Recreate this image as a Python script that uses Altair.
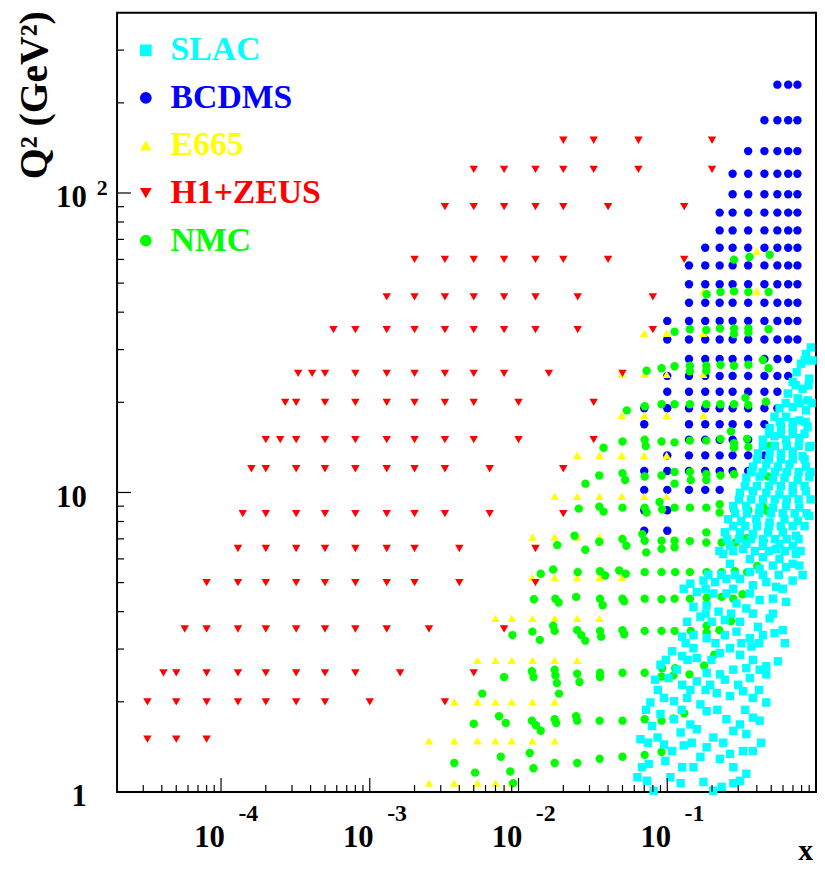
import altair as alt
import pandas as pd

FONT = "Liberation Serif"

EXPERIMENTS = ["SLAC", "BCDMS", "E665", "H1+ZEUS", "NMC"]
COLORS = ["#00ffff", "#0000ff", "#ffff00", "#ff0000", "#00ff00"]
SHAPES = ["square", "circle", "triangle-up", "triangle-down", "circle"]

X_MAJOR = [1e-4, 1e-3, 1e-2, 1e-1]
X_MINOR = [k * 10.0 ** e for e in range(-5, 0) for k in range(2, 10) if k * 10.0 ** e > 2.1e-5]
Y_MAJOR = [1, 10, 100]
Y_MINOR = [2, 3, 4, 5, 6, 7, 8, 9, 20, 30, 40, 50, 60, 70, 80, 90, 200, 300]

# ---------------- H1+ZEUS (Q2 bins, x values per bin)
H1_Q2 = [150, 120, 90, 60, 45, 35, 25, 20, 15, 12, 8.5, 6.5, 5, 3.5, 2.5, 2, 1.5]
H1_X = [
    [0.02, 0.032, 0.064, 0.2],
    [0.005, 0.008, 0.013, 0.02, 0.032, 0.064, 0.2],
    [0.0032, 0.005, 0.008, 0.013, 0.02, 0.04, 0.13],
    [0.002, 0.0032, 0.005, 0.008, 0.013, 0.02, 0.04, 0.13],
    [0.0013, 0.002, 0.0032, 0.005, 0.008, 0.013, 0.025, 0.08],
    [0.00057, 0.0008, 0.0013, 0.002, 0.0032, 0.005, 0.008, 0.013, 0.025, 0.08],
    [0.00033, 0.00041, 0.0005, 0.0008, 0.0013, 0.002, 0.0032, 0.005, 0.008, 0.016, 0.05],
    [0.00027, 0.00032, 0.0005, 0.0008, 0.0013, 0.002, 0.0032, 0.005, 0.01, 0.032],
    [0.0002, 0.00025, 0.00032, 0.0005, 0.0008, 0.0013, 0.002, 0.0032, 0.005, 0.01, 0.032],
    [0.00016, 0.0002, 0.00032, 0.0005, 0.0008, 0.0013, 0.002, 0.0032, 0.0064, 0.02],
    [0.00014, 0.0002, 0.00032, 0.0005, 0.0008, 0.0013, 0.002, 0.0032, 0.0064, 0.02],
    [0.00013, 0.0002, 0.00032, 0.0005, 0.0008, 0.0013, 0.002, 0.004, 0.013],
    [0.00008, 0.00013, 0.0002, 0.00032, 0.0005, 0.0008, 0.0013, 0.002, 0.004, 0.013],
    [0.000057, 0.00008, 0.00013, 0.0002, 0.00032, 0.0005, 0.0008, 0.0013, 0.0025, 0.008],
    [0.000041, 0.00005, 0.00008, 0.00013, 0.0002, 0.00032, 0.0005, 0.0008, 0.0016, 0.005],
    [0.000032, 0.00005, 0.00008, 0.00013, 0.0002, 0.00032, 0.0005, 0.001, 0.0032],
    [0.000032, 0.00005, 0.00008],
]

# ---------------- E665
E665_Q2 = [64, 47, 34, 24.8, 18.1, 13.3, 9.7, 7.1, 5.2, 3.8, 2.75, 2.0, 1.48, 1.07]
E665_X = [
    [0.40],
    [0.175, 0.40],
    [0.07, 0.099, 0.175],
    [0.0495, 0.07, 0.099, 0.175],
    [0.0495, 0.07, 0.099, 0.175],
    [0.0248, 0.035, 0.0495, 0.07, 0.099],
    [0.0175, 0.0248, 0.035, 0.0495, 0.07, 0.099],
    [0.0124, 0.0175, 0.0248, 0.035, 0.0495],
    [0.0124, 0.0175, 0.0248, 0.035, 0.0495],
    [0.007, 0.009, 0.0124, 0.0175, 0.0248, 0.035],
    [0.0053, 0.007, 0.009, 0.0124, 0.0175, 0.0248],
    [0.0037, 0.0053, 0.007, 0.009, 0.0124, 0.0175],
    [0.0025, 0.0037, 0.0053, 0.007, 0.009, 0.0124, 0.0175],
    [0.0025, 0.0037, 0.0053, 0.007, 0.009],
]

# ---------------- BCDMS
BCDMS_Q2 = [230, 175, 138, 116, 99, 86, 75, 65.6, 57.3, 49.6, 43, 37.4, 32.4, 27.9,
            24.5, 21.7, 19.1, 16.9, 15.0, 13.3, 11.8, 10.2, 8.72, 7.45]
BCDMS_X = [
    [0.55, 0.65, 0.75],
    [0.45, 0.55, 0.65, 0.75],
    [0.35, 0.45, 0.55, 0.65, 0.75],
    [0.275, 0.35, 0.45, 0.55, 0.65, 0.75],
    [0.275, 0.35, 0.45, 0.55, 0.65, 0.75],
    [0.225, 0.275, 0.35, 0.45, 0.55, 0.65, 0.75],
    [0.225, 0.275, 0.35, 0.45, 0.55, 0.65, 0.75],
    [0.18, 0.225, 0.275, 0.35, 0.45, 0.55, 0.65, 0.75],
    [0.14, 0.18, 0.225, 0.275, 0.35, 0.45, 0.55, 0.65, 0.75],
    [0.14, 0.18, 0.225, 0.275, 0.35, 0.45, 0.55, 0.65, 0.75],
    [0.14, 0.18, 0.225, 0.275, 0.35, 0.45, 0.55, 0.65, 0.75],
    [0.10, 0.14, 0.18, 0.225, 0.275, 0.35, 0.45, 0.55, 0.65, 0.75],
    [0.10, 0.14, 0.18, 0.225, 0.275, 0.35, 0.45, 0.55, 0.65, 0.75],
    [0.14, 0.18, 0.225, 0.275, 0.35, 0.45, 0.55, 0.65],
    [0.10, 0.14, 0.18, 0.225, 0.275, 0.35, 0.45, 0.55, 0.65],
    [0.10, 0.14, 0.18, 0.225, 0.275, 0.35, 0.45, 0.55],
    [0.07, 0.10, 0.14, 0.18, 0.225, 0.275, 0.35, 0.45, 0.55],
    [0.07, 0.14, 0.18, 0.225, 0.275, 0.35, 0.45],
    [0.14, 0.18, 0.225, 0.275, 0.35],
    [0.10, 0.14, 0.18, 0.225, 0.275, 0.35, 0.45],
    [0.07, 0.10, 0.14, 0.18, 0.225, 0.275, 0.35],
    [0.07, 0.10, 0.14, 0.18, 0.225],
    [0.07, 0.10],
    [0.07, 0.10],
]

# ---------------- NMC (x, Q2 read point by point)
NMC_X = [
    0.488, 0.281, 0.357,
    0.184, 0.228, 0.281, 0.351, 0.48,
    0.112, 0.142, 0.183, 0.226, 0.281, 0.281, 0.351, 0.351, 0.48,
    0.0727, 0.0915, 0.112, 0.142, 0.142, 0.183, 0.183, 0.228, 0.281, 0.351, 0.44, 0.48,
    0.0535, 0.0705, 0.0915, 0.112, 0.142, 0.183, 0.228, 0.281, 0.335, 0.351, 0.461,
    0.0373, 0.05, 0.0705, 0.0716, 0.0915, 0.112, 0.142, 0.183, 0.228, 0.268, 0.281, 0.281, 0.344, 0.351, 0.488,
    0.0349, 0.05, 0.0521, 0.0705, 0.0915, 0.112, 0.112, 0.142, 0.144, 0.183, 0.183, 0.228, 0.281, 0.475, 0.0282,
    0.0349, 0.0373, 0.05, 0.0705, 0.0727, 0.0887, 0.0923, 0.112, 0.142, 0.183, 0.225, 0.225, 0.281, 0.351, 0.44, 0.468, 0.0254,
    0.0349, 0.05, 0.0531, 0.0679, 0.0705, 0.0722, 0.0915, 0.0915, 0.112, 0.112, 0.142, 0.183, 0.183, 0.232, 0.288, 0.344, 0.445, 0.0238, 0.0182, 0.0281,
    0.0141, 0.0171, 0.025, 0.0353, 0.0382, 0.0475, 0.0526, 0.0705, 0.0915, 0.113, 0.142, 0.184, 0.232, 0.285, 0.344, 0.403,
    0.0127, 0.0177, 0.0186, 0.0244, 0.0353, 0.0368, 0.05, 0.0513, 0.0705, 0.0915, 0.112, 0.142, 0.184, 0.232, 0.278, 0.32,
    0.0091, 0.0124, 0.0139, 0.0171, 0.0175, 0.0248, 0.0264, 0.0281, 0.0353, 0.0359, 0.05, 0.0513, 0.0705, 0.0915, 0.112, 0.144, 0.184, 0.184, 0.224, 0.268, 0.207, 0.177,
    0.008, 0.0123, 0.0126, 0.0175, 0.0177, 0.0181, 0.0187, 0.0248, 0.0257, 0.0353, 0.0353, 0.05, 0.0705, 0.0923, 0.0915, 0.113, 0.11, 0.141, 0.0057,
    0.13, 0.0074, 0.0082, 0.005, 0.0123, 0.0131, 0.0141, 0.0175, 0.0179, 0.0244, 0.0248, 0.0351, 0.05, 0.0705, 0.0915, 0.11,
    0.0915, 0.0037, 0.0076, 0.0119, 0.0126, 0.0175, 0.0248, 0.0351, 0.05, 0.0705, 0.0051, 0.0088, 0.0092,
]
NMC_Q2 = [
    62.2, 59.9, 61.1,
    45.9, 46.7, 47.0, 46.7, 46.7,
    34.4, 35.1, 34.9, 35.3, 35.3, 33.8, 35.3, 34.2, 35.1,
    25.5, 26.0, 26.4, 26.5, 25.4, 26.5, 25.5, 26.7, 26.5, 26.7, 27.7, 26.0,
    18.8, 19.4, 19.7, 19.7, 19.7, 19.7, 19.7, 19.7, 20.7, 19.6, 20.1,
    14.1, 14.8, 15.0, 14.3, 14.8, 14.7, 14.9, 14.9, 15.1, 16.0, 14.6, 14.1, 15.1, 14.2, 14.3,
    11.4, 11.6, 11.0, 11.3, 11.4, 11.7, 10.7, 11.7, 11.0, 11.5, 11.0, 11.4, 11.5, 11.3, 10.7,
    8.97, 8.63, 8.90, 8.90, 8.57, 9.29, 8.78, 8.90, 8.90, 8.90, 9.13, 8.57, 8.74, 8.72, 8.97, 8.67, 8.83,
    6.85, 6.99, 6.64, 7.26, 6.90, 6.31, 6.90, 6.48, 6.90, 6.56, 6.88, 7.36, 6.81, 6.81, 6.81, 7.04, 6.90, 7.17, 6.67, 6.44,
    5.35, 5.53, 5.42, 5.46, 5.28, 5.49, 5.35, 5.42, 5.42, 5.42, 5.42, 5.42, 5.42, 5.46, 5.42, 5.68,
    4.40, 4.42, 4.29, 4.48, 4.42, 4.20, 4.42, 4.33, 4.42, 4.40, 4.42, 4.42, 4.45, 4.48, 4.42, 4.57,
    3.34, 3.43, 3.22, 3.59, 3.45, 3.47, 3.34, 3.20, 3.45, 3.30, 3.47, 3.36, 3.45, 3.45, 3.45, 3.45, 3.59, 3.41, 3.47, 3.72, 2.87, 2.64,
    2.42, 2.53, 2.42, 2.56, 2.45, 2.31, 2.13, 2.48, 2.33, 2.50, 2.42, 2.50, 2.50, 2.59, 2.43, 2.59, 2.45, 2.47, 2.13,
    1.83, 1.79, 1.70, 1.69, 1.73, 1.67, 1.60, 1.75, 1.70, 1.79, 1.73, 1.73, 1.73, 1.75, 1.73, 1.76,
    1.36, 1.25, 1.31, 1.35, 1.20, 1.25, 1.25, 1.29, 1.31, 1.33, 1.16, 1.17, 1.07,
]

# ---------------- SLAC (x, Q2 read point by point)
SLAC_X = [
    0.923, 0.855, 0.792, 0.901, 0.741, 0.697, 0.813, 0.646, 0.753, 0.878,
    0.568, 0.697, 0.855, 0.526, 0.629, 0.773, 0.488, 0.582, 0.697, 0.878,
    0.440, 0.526, 0.629, 0.773, 0.901, 0.407, 0.488, 0.582, 0.697, 0.813,
    0.377, 0.463, 0.554, 0.663, 0.855, 0.340, 0.418, 0.513, 0.614, 0.753, 0.901,
    0.308, 0.377, 0.463, 0.568, 0.697, 0.855,
    0.278, 0.340, 0.418, 0.513, 0.629, 0.773,
    0.257, 0.315, 0.397, 0.488, 0.614, 0.753, 0.901,
    0.244, 0.308, 0.377, 0.475, 0.598, 0.733,
    0.264, 0.340, 0.440, 0.568, 0.697,
    0.238, 0.264, 0.324, 0.359, 0.440, 0.540, 0.568, 0.733, 0.697,
    0.359, 0.418, 0.513, 0.629, 0.773,
    0.143, 0.175, 0.210, 0.250, 0.308, 0.377, 0.463, 0.540, 0.697,
    0.158, 0.204, 0.250, 0.359, 0.418, 0.513, 0.629,
    0.150, 0.184, 0.221, 0.340, 0.292,
    0.136, 0.167, 0.199, 0.244, 0.308, 0.407, 0.488, 0.598,
    0.126, 0.150, 0.184, 0.244, 0.292, 0.359, 0.440, 0.526,
    0.108, 0.126, 0.150, 0.158, 0.226, 0.264, 0.308, 0.368, 0.418, 0.463, 0.554,
    0.090, 0.116, 0.184, 0.226, 0.278, 0.340,
    0.083, 0.102, 0.126, 0.158, 0.194, 0.244, 0.300, 0.359, 0.463,
    0.077, 0.095, 0.111, 0.136, 0.167, 0.215, 0.264, 0.324, 0.377, 0.463,
    0.079, 0.090, 0.111, 0.143, 0.184, 0.250, 0.308, 0.377, 0.418,
    0.066, 0.086, 0.123, 0.158, 0.204, 0.278, 0.340,
    0.075, 0.095, 0.108, 0.129, 0.167, 0.184, 0.226, 0.264, 0.324, 0.377,
    0.097, 0.126,
    0.063, 0.073, 0.081, 0.105, 0.123, 0.175, 0.204, 0.232, 0.278, 0.340, 0.308,
    # points filling the dense part of the band
    0.838, 0.948,
    0.730, 0.891,
    0.626, 0.776, 0.933,
    0.570, 0.697, 0.851,
    0.482, 0.580, 0.697, 0.838,
    0.440, 0.529, 0.636, 0.764, 0.919,
    0.401, 0.482, 0.580, 0.697, 0.838,
    0.366, 0.440, 0.529, 0.636, 0.764, 0.919,
    0.334, 0.401, 0.482, 0.580, 0.697, 0.838,
    0.304, 0.366, 0.440, 0.529, 0.636, 0.764, 0.919,
    0.286, 0.344, 0.414, 0.497, 0.598, 0.719, 0.864,
    0.278, 0.334, 0.401, 0.482, 0.580, 0.697, 0.838,
    0.253, 0.304, 0.366, 0.440, 0.529, 0.636, 0.764,
    0.224, 0.278, 0.389, 0.482, 0.617, 0.788,
    0.189, 0.231, 0.286, 0.440, 0.562, 0.813,
    0.129, 0.181, 0.278, 0.598,
    0.181, 0.269, 0.377, 0.513,
    0.133, 0.211, 0.315, 0.414, 0.617,
    0.0977, 0.137, 0.198, 0.377,
    0.0864, 0.143, 0.181, 0.414,
    0.0719, 0.125, 0.217, 0.334,
    0.0741, 0.146, 0.238, 0.427,
    0.0676, 0.150, 0.278,
]
SLAC_Q2 = [
    30.5, 29.0, 26.9, 24.0, 25.2, 23.4, 22.2, 21.4, 20.6, 20.3,
    19.1, 19.3, 18.8, 17.9, 17.9, 17.4, 16.4, 16.6, 16.4, 16.6,
    15.0, 15.4, 15.0, 15.2, 14.2, 13.5, 13.7, 13.5, 13.7, 13.2,
    12.2, 12.4, 12.2, 12.4, 12.2, 11.2, 11.3, 11.0, 11.2, 11.0, 11.3,
    9.98, 10.1, 9.98, 9.85, 9.98, 10.1,
    9.01, 9.01, 8.90, 8.90, 9.01, 8.90,
    8.14, 8.04, 8.14, 7.94, 8.14, 8.04, 8.35,
    7.36, 7.36, 7.26, 7.36, 7.36, 7.17,
    6.64, 6.73, 6.64, 6.73, 6.64,
    6.23, 5.78, 6.48, 6.00, 6.08, 6.48, 6.00, 6.23, 5.78,
    5.42, 5.56, 5.70, 5.63, 5.70,
    4.96, 5.08, 5.02, 5.15, 5.15, 4.90, 5.02, 4.84, 5.08,
    4.65, 4.60, 4.60, 4.60, 4.37, 4.42, 4.31,
    4.15, 4.20, 4.00, 4.10, 4.26,
    3.70, 3.85, 3.70, 3.75, 3.70, 3.56, 3.80, 3.47,
    3.30, 3.34, 3.26, 3.34, 3.43, 3.26, 3.34, 3.39,
    2.95, 2.84, 3.02, 2.80, 2.91, 3.02, 2.87, 3.06, 2.56, 2.63, 2.73,
    2.66, 2.56, 2.50, 2.47, 2.56, 2.59,
    2.37, 2.40, 2.28, 2.34, 2.28, 2.37, 2.28, 2.40, 2.47,
    1.99, 2.06, 2.01, 2.06, 1.96, 2.14, 2.09, 2.17, 2.06, 1.99,
    1.66, 1.82, 1.75, 1.68, 1.86, 1.75, 1.68, 1.77, 1.73,
    1.50, 1.52, 1.58, 1.62, 1.52, 1.60, 1.56,
    1.24, 1.44, 1.37, 1.43, 1.31, 1.41, 1.29, 1.34, 1.37, 1.37,
    1.27, 1.21,
    1.12, 1.09, 1.01, 1.12, 1.07, 1.08, 1.01, 1.04, 1.07, 1.15, 1.09,
    # points filling the dense part of the band
    27.6, 27.6,
    22.8, 22.8,
    19.9, 19.9, 19.9,
    17.2, 17.2, 17.2,
    15.7, 15.7, 15.7, 15.7,
    14.3, 14.3, 14.3, 14.3, 14.3,
    12.9, 12.9, 12.9, 12.9, 12.9,
    11.7, 11.7, 11.7, 11.7, 11.7, 11.7,
    10.5, 10.5, 10.5, 10.5, 10.5, 10.5,
    9.48, 9.48, 9.48, 9.48, 9.48, 9.48, 9.48,
    8.52, 8.52, 8.52, 8.52, 8.52, 8.52, 8.52,
    7.72, 7.72, 7.72, 7.72, 7.72, 7.72, 7.72,
    6.99, 6.99, 6.99, 6.99, 6.99, 6.99, 6.99,
    6.38, 6.38, 6.38, 6.38, 6.38, 6.38,
    5.31, 5.31, 5.31, 5.31, 5.31, 5.31,
    4.77, 4.77, 4.77, 4.77,
    3.94, 3.94, 3.94, 3.94,
    3.14, 3.14, 3.14, 3.14, 3.14,
    2.76, 2.76, 2.76, 2.76,
    2.19, 2.19, 2.19, 2.19,
    1.88, 1.88, 1.88, 1.88,
    1.46, 1.46, 1.46, 1.46,
    1.21, 1.21, 1.21,
]

# ---------------- build the table (drawing order: BCDMS, E665, H1+ZEUS, NMC, SLAC)
rows = []
for q2, xs in zip(BCDMS_Q2, BCDMS_X):
    rows += [("BCDMS", x, q2) for x in xs]
for q2, xs in zip(E665_Q2, E665_X):
    rows += [("E665", x, q2) for x in xs]
for q2, xs in zip(H1_Q2, H1_X):
    rows += [("H1+ZEUS", x, q2) for x in xs]
rows += [("NMC", x, q2) for x, q2 in zip(NMC_X, NMC_Q2)]
rows += [("SLAC", x, q2) for x, q2 in zip(SLAC_X, SLAC_Q2)]
df = pd.DataFrame(rows, columns=["exp", "x", "q2"])

guide_df = pd.DataFrame({"x": [0.01], "q2": [10.0]})
xmaj_df = pd.DataFrame({"x": X_MAJOR})
xmin_df = pd.DataFrame({"x": X_MINOR})
ymaj_df = pd.DataFrame({"q2": Y_MAJOR})
ymin_df = pd.DataFrame({"q2": Y_MINOR})

W, H = 705, 786
xscale = alt.Scale(type="log", domain=[2e-5, 1], nice=False)
yscale = alt.Scale(type="log", domain=[1, 400], nice=False)

common = dict(grid=False, domain=False, labelFont=FONT, labelFontWeight="bold",
              labelColor="black", labelFlush=False, labelOverlap=False)

color_expr = ("datum.label == 'SLAC' ? '#00ffff' : datum.label == 'BCDMS' ? '#0000ff' : "
              "datum.label == 'E665' ? '#ffff00' : datum.label == 'H1+ZEUS' ? '#ff0000' : '#00ff00'")

legend = alt.Legend(title=None, orient="none", legendX=12, legendY=21, direction="vertical",
                    labelFont=FONT, labelFontSize=34, labelFontWeight="bold",
                    labelColor=alt.ExprRef(expr=color_expr), symbolSize=140,
                    symbolStrokeWidth=0, labelOffset=8, rowPadding=14, padding=0)

points = alt.Chart(df).mark_point(filled=True, size=72, opacity=1, strokeWidth=0).encode(
    x=alt.X("x:Q", scale=xscale, axis=alt.Axis(
        orient="bottom", values=X_MAJOR, labelExpr="'10'", ticks=False, tickSize=0,
        labelFontSize=31, labelBaseline="alphabetic", labelAlign="center",
        labelPadding=55, labelOffset=-12,
        title="x", titleFont=FONT, titleFontSize=30, titleFontWeight="bold", titleColor="black",
        titleX=694, titleY=68, titleAlign="center", titleBaseline="alphabetic", **common)),
    y=alt.Y("q2:Q", scale=yscale, axis=alt.Axis(
        orient="left", values=Y_MAJOR, labelExpr="datum.value == 1 ? '1' : '10'",
        ticks=False, tickSize=0, labelFontSize=31, labelAlign="right", labelBaseline="middle",
        labelPadding=31, labelOffset=5,
        title="Q² (GeV²)", titleFont=FONT, titleFontSize=40, titleFontWeight="bold",
        titleColor="black", titleAngle=270, titleAlign="right", titleBaseline="middle",
        titleX=-83, titleY=-2, **common)),
    color=alt.Color("exp:N", scale=alt.Scale(domain=EXPERIMENTS, range=COLORS), legend=legend),
    shape=alt.Shape("exp:N", scale=alt.Scale(domain=EXPERIMENTS, range=SHAPES), legend=legend),
)

exponents = alt.Chart(guide_df).mark_point(opacity=0).encode(
    x=alt.X("x:Q", scale=xscale, axis=alt.Axis(
        orient="bottom", values=X_MAJOR, labelExpr="'-' + round(-log(datum.value) / LN10)",
        ticks=False, tickSize=0, labelFontSize=24, labelBaseline="alphabetic", labelAlign="center",
        labelPadding=29, labelOffset=27, title=None, **common)),
    y=alt.Y("q2:Q", scale=yscale, axis=alt.Axis(
        orient="left", values=[100], labelExpr="'2'", ticks=False, tickSize=0,
        labelFontSize=22, labelAlign="left", labelBaseline="middle", labelPadding=21,
        labelOffset=-5, title=None, **common)),
)

# inward tick marks, positioned along the axes by the same log scales
def xticks(data, length):
    return alt.Chart(data).mark_rule(color="black", strokeWidth=1.2).encode(
        x=alt.X("x:Q", scale=xscale, axis=None),
        y=alt.value(H - length), y2=alt.value(H))

def yticks(data, length):
    return alt.Chart(data).mark_rule(color="black", strokeWidth=1.2).encode(
        y=alt.Y("q2:Q", scale=yscale, axis=None),
        x=alt.value(0), x2=alt.value(length))

chart = alt.layer(
    points, exponents,
    xticks(xmaj_df, 14), xticks(xmin_df, 7),
    yticks(ymaj_df, 14), yticks(ymin_df, 7),
).resolve_axis(
    x="independent", y="independent"
).properties(
    width=W, height=H,
    padding={"left": 110, "top": 1, "right": 1, "bottom": 74},
    autosize=alt.AutoSizeParams(type="none"),
    background="white",
).configure_view(stroke="black", strokeWidth=2)

chart.save("out.html", embed_options={"renderer": "svg", "actions": False})
